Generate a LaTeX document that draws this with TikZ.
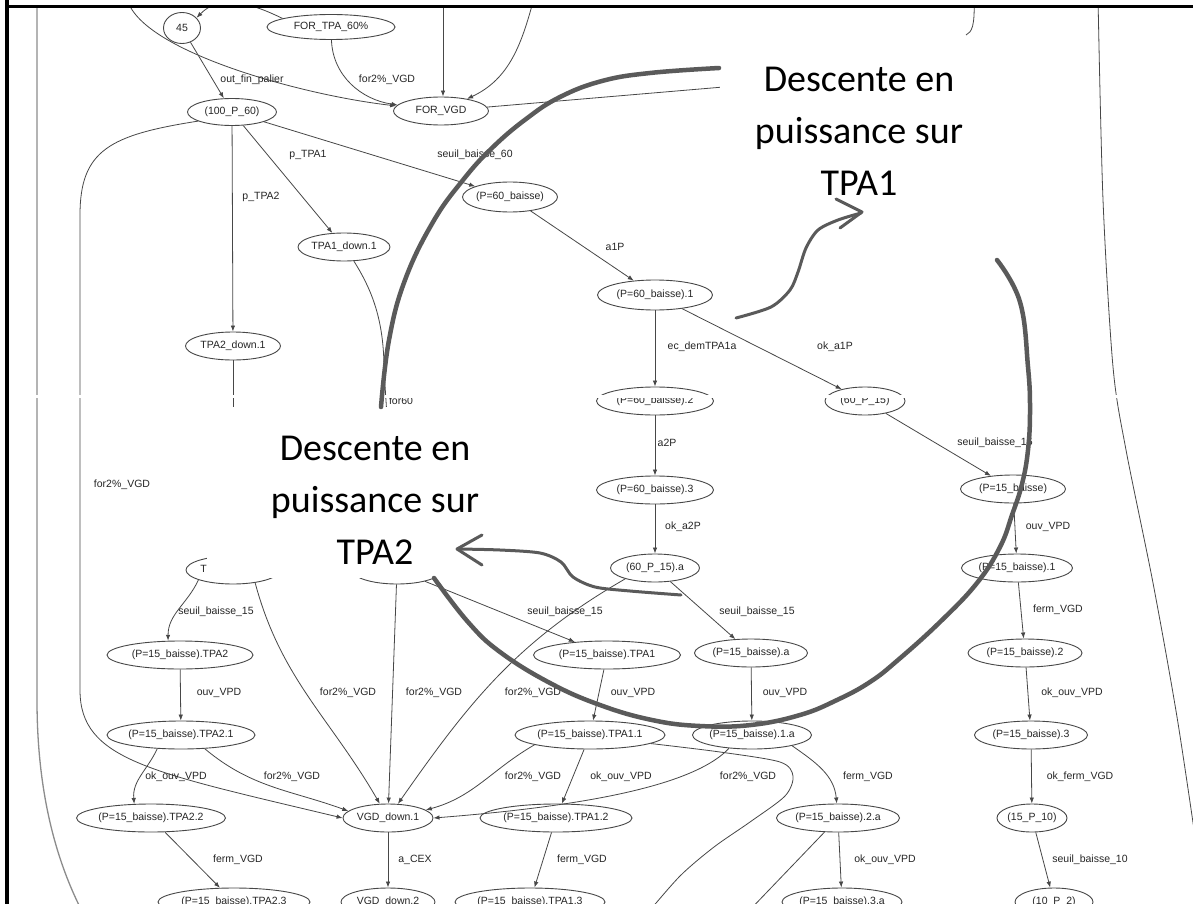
\documentclass[tikz,border=0pt]{standalone}
\usepackage{fontspec}
\setmainfont{Liberation Sans}
\newfontfamily\calloutfont{Carlito}
\usetikzlibrary{arrows.meta,shapes.geometric}
\definecolor{edgec}{HTML}{474747}
\definecolor{hlgrey}{HTML}{5A5A5A}
\begin{document}
\begin{tikzpicture}[x=1pt,y=1pt,
  st/.style={ellipse, draw=edgec, line width=0.9pt, inner sep=0pt, minimum height=28pt,
    font=\fontsize{10.5}{12}\selectfont, text=black!85,
    execute at begin node={\hbox to 0pt\bgroup\hss},
    execute at end node={\hss\egroup}},
  lbl/.style={inner sep=0pt, font=\fontsize{10.5}{12}\selectfont, text=black!85},
  ln/.style={draw=edgec, line width=0.8pt},
  arr/.style={ln, -{Latex[length=6pt,width=4.5pt]}},
  ring/.style={draw=hlgrey, line width=4.5pt, line cap=round, line join=round},
  callout/.style={draw=hlgrey, line width=3pt, line cap=round, line join=round},
  note/.style={inner sep=0pt, align=center, text=black, font=\calloutfont\fontsize{38}{52}\selectfont}]

\useasboundingbox (0,0) rectangle (1193,-904);
\fill[white] (0,0) rectangle (1193,-904);

\begin{scope}
\clip (9,-8) rectangle (1193,-904);

% ---------- states ----------
\node[st, minimum width=37pt, minimum height=31pt] (n45) at (182,-28) {45};
\node[st, minimum width=128pt, minimum height=25pt] (ftpa) at (331,-27) {FOR\_TPA\_60\%};
\node[st, minimum width=95pt] (fvgd) at (441,-111) {FOR\_VGD};
\node[st, minimum width=89pt, minimum height=27pt] (p100) at (232,-112) {(100\_P\_60)};
\node[st, minimum width=95pt, minimum height=30pt] (p60b) at (510,-197) {(P=60\_baisse)};
\node[st, minimum width=92pt] (tpa1d) at (344,-247) {TPA1\_down.1};
\node[st, minimum width=115pt, minimum height=30pt] (p60b1) at (655,-295) {(P=60\_baisse).1};
\node[st, minimum width=95pt] (tpa2d) at (233,-346) {TPA2\_down.1};
\node[st, minimum width=117pt] (p60b2) at (655,-401) {(P=60\_baisse).2};
\node[st, minimum width=80pt] (p6015) at (865,-401) {(60\_P\_15)};
\node[st, minimum width=117pt] (p60b3) at (655,-490) {(P=60\_baisse).3};
\node[st, minimum width=105pt] (p15b) at (1013,-489) {(P=15\_baisse)};
\node[st, minimum width=94pt] (tpa2d2) at (233,-570) {TPA2\_down.2};
\node[st, minimum width=90pt] (tpa1d2) at (397,-570) {};
\node[st, minimum width=89pt] (p6015a) at (655,-568) {(60\_P\_15).a};
\node[st, minimum width=111pt] (p15b1) at (1017,-568) {(P=15\_baisse).1};
\node[st, minimum width=146pt] (tpa2) at (180,-655) {(P=15\_baisse).TPA2};
\node[st, minimum width=147pt] (tpa1) at (607,-655) {(P=15\_baisse).TPA1};
\node[st, minimum width=113pt] (p15a) at (751,-653) {(P=15\_baisse).a};
\node[st, minimum width=114pt] (p15b2) at (1025,-653) {(P=15\_baisse).2};
\node[st, minimum width=148pt] (tpa21) at (181,-735) {(P=15\_baisse).TPA2.1};
\node[st, minimum width=150pt] (tpa11) at (590,-735) {(P=15\_baisse).TPA1.1};
\node[st, minimum width=119pt] (p151a) at (752,-735) {(P=15\_baisse).1.a};
\node[st, minimum width=113pt] (p15b3) at (1031,-735) {(P=15\_baisse).3};
\node[st, minimum width=149pt] (tpa22) at (151,-818) {(P=15\_baisse).TPA2.2};
\node[st, minimum width=90pt] (vgd1) at (388,-818) {VGD\_down.1};
\node[st, minimum width=152pt] (tpa12) at (556,-818) {(P=15\_baisse).TPA1.2};
\node[st, minimum width=123pt] (p152a) at (838,-818) {(P=15\_baisse).2.a};
\node[st, minimum width=70pt] (p1510) at (1032,-818) {(15\_P\_10)};
\node[st, minimum width=152pt] (tpa23) at (234,-902) {(P=15\_baisse).TPA2.3};
\node[st, minimum width=94pt] (vgd2) at (388,-902) {VGD\_down.2};
\node[st, minimum width=150pt] (tpa13) at (530,-902) {(P=15\_baisse).TPA1.3};
\node[st, minimum width=120pt] (p153a) at (842,-902) {(P=15\_baisse).3.a};
\node[st, minimum width=78pt] (p102) at (1054,-902) {(10\_P\_2)};

% ---------- loose ends leaving the view ----------
\coordinate (c3) at (127,2);
\coordinate (c6) at (443,2);
\coordinate (c7) at (534,2);
\coordinate (c8) at (900,-72);
\coordinate (c41) at (646,-915);
\coordinate (c42) at (745,-915);
\coordinate (c47a) at (37,2);
\coordinate (c47b) at (84,-915);
\coordinate (c48a) at (1098,2);
\coordinate (c48b) at (1197,-850);
\coordinate (c49a) at (974,2);
\coordinate (c49b) at (966,-35);

% ---------- transitions ----------
\draw[arr] (ftpa.170) .. controls (245,0) and (218,4) .. (n45.35);
\draw[arr] (c3) .. controls (138,-50) and (300,-95) .. (fvgd);
\draw[arr] (n45) -- (p100);
\draw[arr] (ftpa) to[out=-88,in=172] (fvgd);
\draw[arr] (c6) -- (c6 |- fvgd.north);
\draw[arr] (c7) to[out=-105,in=25] (fvgd);
\draw[ln] (fvgd) -- (c8);
\draw[ln] (c49a) .. controls (975,-26) and (972,-32) .. (c49b);
\draw[ln] plot[smooth] coordinates {(c48a) (1103,-200) (1113,-367) (1126,-450) (1153,-583) (1177,-717) (c48b)};
\draw[ln, draw=black!45, line width=1.3pt] (c47a) -- (37,-700) .. controls (37,-790) and (55,-860) .. (c47b);

\draw[arr] (p100) -- (p60b);
\draw[arr] (p100) -- (tpa1d);
\draw[arr] (p100) -- (tpa2d);
\draw[arr] (p100.195) .. controls (110,-135) and (80,-150) .. (80,-215) -- (80,-690)
  .. controls (80,-760) and (150,-772) .. (vgd1.180);
\draw[arr] (tpa1d.-55) .. controls (372,-290) and (384,-320) .. (384,-370) -- (tpa1d2);
\draw[arr] (tpa2d) -- (tpa2d2);

\draw[arr] (p60b) -- (p60b1);
\draw[arr] (p60b1) -- (p60b2);
\draw[arr] (p60b1) -- (p6015);
\draw[arr] (p60b2) -- (p60b3);
\draw[arr] (p6015) -- (p15b);
\draw[arr] (p60b3) -- (p6015a);
\draw[arr] (p15b) -- (p15b1);
\draw[arr] (p15b1) -- (p15b2);
\draw[arr] (p15b2) -- (p15b3);
\draw[arr] (p15b3) -- (p1510);
\draw[arr] (p1510) -- (p102);
\draw[arr] (p6015a) -- (p15a);
\draw[arr] (p6015a.-160) to[out=-150,in=55] (vgd1);

\draw[arr] (tpa2d2.196) to[out=-115,in=90] (tpa2.130);
\draw[arr] (tpa2d2.-30) to[out=-75,in=120] (vgd1.120);
\draw[arr] (tpa1d2) -- (vgd1);
\draw[arr] (tpa1d2) -- (tpa1);

\draw[arr] (tpa2) -- (tpa21);
\draw[arr] (tpa1) -- (tpa11);
\draw[arr] (p15a) -- (p151a);
\draw[arr] (tpa21.-150) to[out=-115,in=95] (tpa22.140);
\draw[arr] (tpa21.-30) to[out=-40,in=160] (vgd1.170);
\draw[arr] (tpa11.-170) to[out=-150,in=15] (vgd1.12);
\draw[arr] (tpa11) -- (tpa12);
\draw[arr] (p151a.-150) .. controls (690,-790) and (560,-808) .. (vgd1.0);
\draw[arr] (p151a.-15) to[out=-35,in=95] (p152a);
\draw[ln] plot[smooth] coordinates {(tpa11.-8) (720,-752) (780,-762) (793,-776) (785,-796) (750,-822) (714,-847) (680,-876) (c41)};
\draw[ln] (p152a) -- (c42);
\draw[arr] (p152a) -- (p153a);
\draw[arr] (tpa22) -- (tpa23);
\draw[arr] (vgd1) -- (vgd2);
\draw[arr] (tpa12) -- (tpa13);

% ---------- transition labels ----------
\node[lbl] (l1) at (252,-80) {out\_fin\_palier};
\node[lbl] (l2) at (387,-80) {for2\%\_VGD};
\node[lbl] (l3) at (308,-155) {p\_TPA1};
\node[lbl] (l4) at (475,-155) {seuil\_baisse\_60};
\node[lbl] (l5) at (261,-197) {p\_TPA2};
\node[lbl] (l6) at (615,-247) {a1P};
\node[lbl] (l7) at (702,-347) {ec\_demTPA1a};
\node[lbl] (l8) at (835,-347) {ok\_a1P};
\node[lbl] (l9) at (401,-401) {for60};
\node[lbl] (l10) at (667,-443) {a2P};
\node[lbl] (l11) at (995,-443) {seuil\_baisse\_15};
\node[lbl] (l12) at (122,-485) {for2\%\_VGD};
\node[lbl] (l13) at (683,-527) {ok\_a2P};
\node[lbl] (l14) at (1048,-527) {ouv\_VPD};
\node[lbl] (l15) at (216,-612) {seuil\_baisse\_15};
\node[lbl] (l16) at (565,-612) {seuil\_baisse\_15};
\node[lbl] (l17) at (757,-612) {seuil\_baisse\_15};
\node[lbl] (l18) at (1058,-610) {ferm\_VGD};
\node[lbl] (l19) at (219,-693) {ouv\_VPD};
\node[lbl] (l20) at (348,-693) {for2\%\_VGD};
\node[lbl] (l21) at (434,-693) {for2\%\_VGD};
\node[lbl] (l22) at (533,-693) {for2\%\_VGD};
\node[lbl] (l23) at (633,-693) {ouv\_VPD};
\node[lbl] (l24) at (785,-693) {ouv\_VPD};
\node[lbl] (l25) at (1072,-693) {ok\_ouv\_VPD};
\node[lbl] (l26) at (176,-777) {ok\_ouv\_VPD};
\node[lbl] (l27) at (292,-777) {for2\%\_VGD};
\node[lbl] (l28) at (533,-777) {for2\%\_VGD};
\node[lbl] (l29) at (621,-777) {ok\_ouv\_VPD};
\node[lbl] (l30) at (748,-777) {for2\%\_VGD};
\node[lbl] (l31) at (868,-777) {ferm\_VGD};
\node[lbl] (l32) at (1080,-777) {ok\_ferm\_VGD};
\node[lbl] (l33) at (238,-860) {ferm\_VGD};
\node[lbl] (l34) at (415,-860) {a\_CEX};
\node[lbl] (l35) at (582,-860) {ferm\_VGD};
\node[lbl] (l36) at (885,-860) {ok\_ouv\_VPD};
\node[lbl] (l37) at (1090,-860) {seuil\_baisse\_10};

% ---------- seam between the two halves of the capture ----------
\fill[white] (9,-395) rectangle (1193,-397.5);

% ---------- white backing of the two text boxes ----------
\fill[white] (720,-36) rectangle (1000,-232);
\fill[white] (207,-407) rectangle (482,-578);

% ---------- highlight ring ----------
\draw[ring] plot[smooth, tension=0.7] coordinates {(719,-68) (650,-73) (602,-81) (560,-97) (526,-119) (492,-148) (463,-180) (433,-222) (405,-280) (389,-340) (381,-407)};
\draw[ring] plot[smooth, tension=0.7] coordinates {(434,-578) (468,-622) (500,-652) (550,-683) (600,-705) (652,-720) (700,-726) (751,-725) (800,-715) (837,-700) (870,-682) (898,-660) (940,-622) (977,-583) (1000,-547) (1012,-515) (1022,-484) (1028,-450) (1030,-410) (1028,-367) (1020,-302) (997,-260)};

% ---------- callout arrows ----------
\draw[callout] plot[smooth] coordinates {(736,-318) (771,-307) (790,-290) (798,-272) (806,-248) (818,-230) (838,-220) (861,-213)};
\draw[callout] (836,-199) -- (862,-212) -- (840,-228);
\draw[callout] plot[smooth] coordinates {(681,-595) (630,-591) (595,-587) (573,-577) (561,-562) (540,-553) (500,-550) (458,-549)};
\draw[callout] (482,-535) -- (457,-549) -- (482,-565);

% ---------- annotations ----------
\node[note] (noteA) at (859,-131) {Descente en\\puissance sur\\TPA1};
\node[note] (noteB) at (375,-500) {Descente en\\puissance sur\\TPA2};
\end{scope}

% ---------- frame ----------
\draw[line width=4pt] (7,2) -- (7,-906);
\draw[line width=3pt] (5,-6.5) -- (1195,-6.5);
\end{tikzpicture}
\end{document}
